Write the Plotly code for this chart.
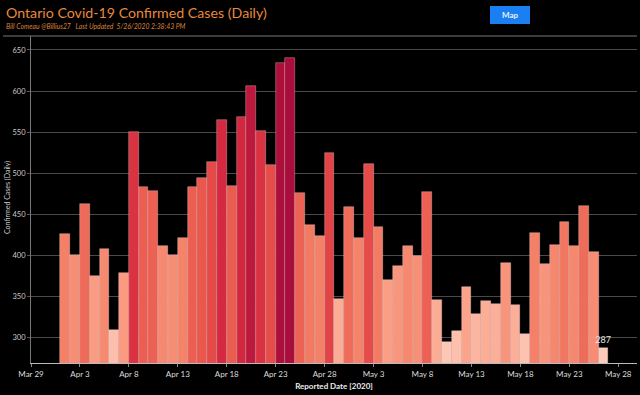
import plotly.graph_objects as go
import pandas as pd

# ---- data ----
dates = pd.date_range("2020-04-01", "2020-05-26", freq="D")
cases = [426, 401, 462, 375, 408, 309, 379, 550, 483, 478, 411, 401, 421, 483,
         494, 514, 565, 485, 568, 606, 551, 510, 634, 640, 476, 437, 424, 525,
         347, 459, 421, 511, 434, 370, 387, 412, 399, 477, 346, 294, 308, 361,
         329, 345, 341, 391, 340, 304, 427, 390, 413, 441, 412, 460, 404, 287]
tick_dates = ["2020-03-29", "2020-04-03", "2020-04-08", "2020-04-13", "2020-04-18",
              "2020-04-23", "2020-04-28", "2020-05-03", "2020-05-08", "2020-05-13",
              "2020-05-18", "2020-05-23", "2020-05-28"]
tick_labels = ["Mar 29", "Apr 3", "Apr 8", "Apr 13", "Apr 18", "Apr 23", "Apr 28",
               "May 3", "May 8", "May 13", "May 18", "May 23", "May 28"]
y_ticks = [300, 350, 400, 450, 500, 550, 600, 650]

DAY_MS = 86400000
x_mid = dates + pd.Timedelta(hours=12)
labels = [""] * (len(cases) - 1) + [str(cases[-1])]

colorscale = [[0.0, "#fdcbbb"], [0.2, "#fba68d"], [0.4, "#f37f66"],
              [0.6, "#e9544b"], [0.8, "#d3263f"], [1.0, "#a80d3b"]]

fig = go.Figure()
fig.add_trace(go.Bar(
    x=x_mid, y=cases, width=DAY_MS,
    marker=dict(color=cases, colorscale=colorscale, cmin=287, cmax=640,
                line=dict(color="rgba(255,225,225,0.55)", width=0.6)),
    text=labels, textposition="outside", cliponaxis=False,
    constraintext="none",
    textfont=dict(color="#e6e6e6", size=9, family="Lato"),
    hoverinfo="x+y", showlegend=False,
))

fig.update_layout(
    width=640, height=395,
    paper_bgcolor="black", plot_bgcolor="black",
    margin=dict(l=31, r=3, t=36, b=32),
    bargap=0,
    font=dict(family="Lato", color="#d0d0d0"),
    xaxis=dict(
        type="date",
        range=["2020-03-29", "2020-05-29 22:00"],
        tickvals=tick_dates, ticktext=tick_labels,
        tickfont=dict(size=8, color="#dddddd"),
        showgrid=False, zeroline=False,
        showline=True, linecolor="#bbbbbb", linewidth=1,
        ticks="outside", ticklen=3, tickcolor="#888888",
        title=dict(text="<b>Reported Date [2020]</b>",
                   font=dict(size=8, color="#eeeeee"), standoff=5),
    ),
    yaxis=dict(
        range=[269, 667],
        tickvals=y_ticks,
        tickfont=dict(size=7.5, color="#cccccc"),
        showgrid=True, gridcolor="#4a4a4a", gridwidth=1,
        zeroline=False,
        showline=True, linecolor="#777777", linewidth=1,
        ticks="outside", ticklen=3, tickcolor="#555555",
    ),
    shapes=[
        dict(type="line", xref="paper", yref="paper",
             x0=(3 - 31) / 606, x1=1.0, y0=1.0, y1=1.0,
             line=dict(color="#777777", width=1)),
        dict(type="rect", xref="paper", yref="paper",
             x0=(490 - 31) / 606, x1=(530 - 31) / 606,
             y0=(363 - 24) / 327, y1=(363 - 6) / 327,
             fillcolor="#1a7ff0", line=dict(width=0)),
    ],
    annotations=[
        dict(text="Ontario Covid-19 Confirmed Cases (Daily)",
             xref="paper", yref="paper", x=(4 - 31) / 606, y=(363 - 13) / 327,
             xanchor="left", yanchor="middle", showarrow=False,
             font=dict(size=14.2, color="#e8893b", family="Lato")),
        dict(text="<i>Bill Comeau @Billius27   Last Updated  5/26/2020 2:38:43 PM</i>",
             xref="paper", yref="paper", x=(4 - 31) / 606, y=(363 - 26) / 327,
             xanchor="left", yanchor="middle", showarrow=False,
             font=dict(size=6.8, color="#d9823a", family="Lato")),
        dict(text="<b>Map</b>",
             xref="paper", yref="paper", x=(510 - 31) / 606, y=(363 - 15) / 327,
             xanchor="center", yanchor="middle", showarrow=False,
             font=dict(size=8, color="#e8f2ff", family="Lato")),
        dict(text="Confirmed Cases (Daily)", textangle=-90,
             xref="paper", yref="paper", x=(7 - 31) / 606, y=(363 - 198) / 327,
             xanchor="center", yanchor="middle", showarrow=False,
             font=dict(size=7, color="#cccccc", family="Lato")),
    ],
)

fig.write_html("out.html", config={"displayModeBar": False},
               post_script="document.body.style.margin='0px';")
